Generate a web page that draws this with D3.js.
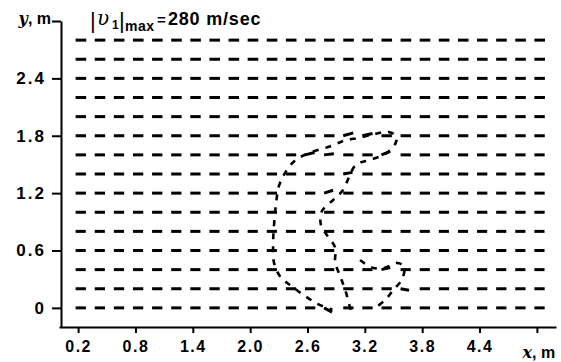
<!DOCTYPE html>
<html>
<head>
<meta charset="utf-8">
<script src="https://cdnjs.cloudflare.com/ajax/libs/d3/7.8.5/d3.min.js"></script>
<style>
  body { margin: 0; background: #fff; }
  svg { display: block; }
  .axis text { font-family: "Liberation Sans", Arial, sans-serif; font-weight: bold; font-size: 17px; fill: #000; }
  .axis path, .axis line { stroke: #000; stroke-width: 2; }
</style>
</head>
<body>
<svg id="chart" width="561" height="362"></svg>
<script>
// grid of the velocity field, metres
const gridX = [0.2, 0.4, 0.6, 0.8, 1.0, 1.2, 1.4, 1.6, 1.8, 2.0, 2.2, 2.4, 2.6,
               2.8, 3.0, 3.2, 3.4, 3.6, 3.8, 4.0, 4.2, 4.4, 4.6, 4.8, 5.0]
const gridY = [0, 0.2, 0.4, 0.6, 0.8, 1.0, 1.2, 1.4, 1.6, 1.8, 2.0, 2.2, 2.4, 2.6, 2.8]

// speed of the flow along each row (m/sec), flow goes in +x
const rowSpeed = [262, 262, 258, 258, 258, 262, 262, 262, 262, 265, 265, 268, 268, 270, 270]
const vMax = 280

// vectors inside the disturbed zone: [x, y, speed, angle in degrees]
const turned = [
  [3.0, 1.8, 265, 16], [3.2, 1.8, 265, 12], [3.4, 1.6, 240, 22],
  [2.6, 1.6, 250, 14], [2.8, 1.6, 250, 6], [3.0, 1.4, 240, 10],
  [2.8, 1.2, 240, 18], [2.8, 0, 230, -28], [3.4, 0.4, 230, 14],
  [3.6, 0.2, 220, -10]
]

// dashed boundary of the zone
const outerLine = [
  [3.05, -0.02], [3.00, 0.17], [2.95, 0.31], [2.89, 0.48], [2.89, 0.63], [2.81, 0.75],
  [2.74, 0.87], [2.75, 1.01], [2.87, 1.13], [2.97, 1.23], [3.04, 1.38], [3.11, 1.50],
  [3.26, 1.55], [3.43, 1.62], [3.52, 1.72], [3.53, 1.79], [3.45, 1.84], [3.31, 1.82],
  [3.15, 1.78], [2.99, 1.75], [2.84, 1.69], [2.65, 1.63], [2.48, 1.55], [2.37, 1.42],
  [2.30, 1.27], [2.27, 1.08], [2.25, 0.87], [2.24, 0.66], [2.25, 0.47], [2.32, 0.32],
  [2.43, 0.23], [2.58, 0.12], [2.71, 0.04], [2.86, -0.02]
]
const innerLine = [
  [3.15, 0.50], [3.28, 0.42], [3.41, 0.42], [3.54, 0.47], [3.61, 0.43], [3.59, 0.30],
  [3.50, 0.19], [3.41, 0.08], [3.28, -0.02]
]

const xTicks = [0.2, 0.8, 1.4, 2.0, 2.6, 3.2, 3.8, 4.4, 5.0]
const xLabels = ['0.2', '0.8', '1.4', '2.0', '2.6', '3.2', '3.8', '4.4', '']
const yTicks = [0, 0.6, 1.2, 1.8, 2.4, 3.0]
const yLabels = ['0', '0.6', '1.2', '1.8', '2.4', '']

const svg = d3.select('#chart')

const x = d3.scaleLinear().domain([0, 5.2]).range([59, 556])
const y = d3.scaleLinear().domain([-0.2, 3.0]).range([327, 21])
const len = d3.scaleLinear().domain([0, vMax]).range([0, 11])

//axes
const xAxis = svg.append('g')
  .attr('class', 'axis')
  .attr('transform', 'translate(0,327)')
  .call(d3.axisBottom(x).tickValues(xTicks).tickSize(6).tickSizeOuter(0)
    .tickFormat((d, i) => xLabels[i]))
xAxis.selectAll('text').attr('dy', '1.0em').attr('letter-spacing', 1.5).style('font-size', '16px')

const yAxis = svg.append('g')
  .attr('class', 'axis')
  .attr('transform', 'translate(61,0)')
  .call(d3.axisLeft(y).tickValues(yTicks).tickSize(9).tickSizeOuter(0)
    .tickFormat((d, i) => yLabels[i]))
yAxis.selectAll('text').attr('x', -15).attr('letter-spacing', 2)

// axis names
const name = svg.append('g')
  .style('font-family', '"Liberation Sans", Arial, sans-serif')
  .style('font-weight', 'bold')
  .style('font-size', '16px')

const yName = name.append('text').attr('x', 51).attr('y', 24).attr('text-anchor', 'end')
yName.append('tspan').text('y').style('font-style', 'italic').style('font-family', '"DejaVu Serif", serif')
yName.append('tspan').text(', m')

const xName = name.append('text').attr('x', x(5.0) + 2).attr('y', 358).attr('text-anchor', 'middle')
xName.append('tspan').text('x').style('font-style', 'italic').style('font-family', '"DejaVu Serif", serif')
xName.append('tspan').text(', m')

// title
const title = name.append('text').attr('y', 25).style('font-size', '18px')
title.append('tspan').attr('x', 90).attr('y', 28).text('|').style('font-weight', 'normal').style('font-size', '22px')
title.append('tspan').attr('x', 97).attr('y', 25).text('υ').style('font-style', 'italic')
  .style('font-family', '"DejaVu Serif", serif').style('font-weight', 'normal').style('font-size', '20px')
title.append('tspan').attr('x', 112).attr('y', 29).text('1').style('font-size', '12px')
title.append('tspan').attr('x', 119).attr('y', 28).text('|').style('font-weight', 'normal').style('font-size', '22px')
title.append('tspan').attr('x', 125).attr('y', 31).text('max').style('font-size', '14px').attr('letter-spacing', 0.5)
title.append('tspan').attr('x', 157).attr('y', 25).text('=').style('font-size', '15px')
title.append('tspan').attr('x', 168).attr('y', 25).text('280 m/sec').attr('letter-spacing', 0.8)

//vectors
const vectors = []
gridY.forEach((gy, r) => {
  gridX.forEach(gx => {
    const t = turned.find(d => d[0] === gx && d[1] === gy)
    vectors.push(t ? {x: gx, y: gy, s: t[2], a: t[3]} : {x: gx, y: gy, s: rowSpeed[r], a: 0})
  })
})

svg.append('g')
  .selectAll('line')
  .data(vectors)
  .join('line')
  .attr('x1', d => x(d.x) - 2.5)
  .attr('y1', d => y(d.y))
  .attr('x2', d => x(d.x) - 2.5 + len(d.s) * Math.cos(d.a * Math.PI / 180))
  .attr('y2', d => y(d.y) - len(d.s) * Math.sin(d.a * Math.PI / 180))
  .style('stroke', '#000')
  .style('stroke-width', 3)

// boundary
const line = d3.line().x(d => x(d[0])).y(d => y(d[1])).curve(d3.curveCatmullRom)

svg.append('g')
  .selectAll('path')
  .data([outerLine, innerLine])
  .join('path')
  .attr('d', line)
  .style('fill', 'none')
  .style('stroke', '#000')
  .style('stroke-width', 2.6)
  .style('stroke-dasharray', '6 7')
</script>
</body>
</html>
